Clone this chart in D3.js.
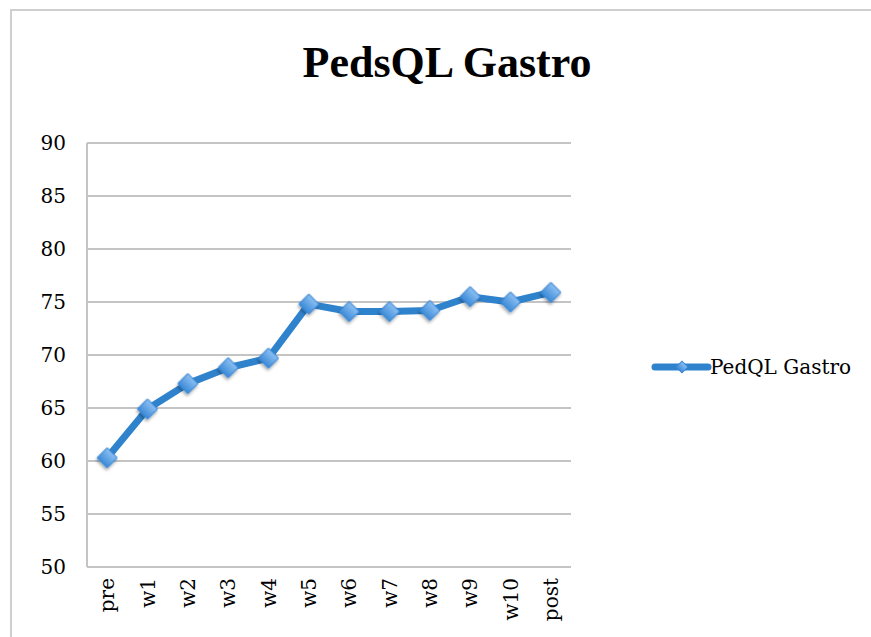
<!DOCTYPE html>
<html>
<head>
<meta charset="utf-8">
<script src="https://cdn.jsdelivr.net/npm/d3@7"></script>
<style>
  body { margin: 0; background: #fff; }
  svg { display: block; }
</style>
</head>
<body>
<div id="chart"></div>
<script>
const categories = ['pre', 'w1', 'w2', 'w3', 'w4', 'w5', 'w6', 'w7', 'w8', 'w9', 'w10', 'post'];
const values = [60.3, 64.9, 67.3, 68.8, 69.7, 74.8, 74.1, 74.1, 74.2, 75.5, 75.0, 75.9];
const yTicks = [50, 55, 60, 65, 70, 75, 80, 85, 90];
const seriesName = 'PedQL Gastro';
const title = 'PedsQL Gastro';

const W = 871, H = 637;
const margin = { top: 143, right: 300, bottom: 70, left: 87 };
const width = W - margin.left - margin.right;
const height = H - margin.top - margin.bottom;
const titleFont = '"Liberation Serif", serif';
const font = '"DejaVu Serif", serif';
const blue = '#2f82cc';

const svg = d3.select('#chart').append('svg')
  .attr('width', W)
  .attr('height', H);

const defs = svg.append('defs');
const grad = defs.append('linearGradient')
  .attr('id', 'mk').attr('x1', 0).attr('y1', 0).attr('x2', 0).attr('y2', 1);
grad.append('stop').attr('offset', '0%').attr('stop-color', '#8cc0f2');
grad.append('stop').attr('offset', '100%').attr('stop-color', '#3c8ad8');
const shadow = defs.append('filter').attr('id', 'sh')
  .attr('x', '-50%').attr('y', '-50%').attr('width', '200%').attr('height', '200%');
shadow.append('feDropShadow').attr('dx', 1).attr('dy', 2).attr('stdDeviation', 1.5)
  .attr('flood-color', '#000').attr('flood-opacity', 0.35);

// outer frame
svg.append('rect')
  .attr('x', 11).attr('y', 10)
  .attr('width', W).attr('height', H)
  .attr('fill', 'none')
  .attr('stroke', '#cfcfcf')
  .attr('stroke-width', 2);

svg.append('text')
  .attr('x', 447).attr('y', 77)
  .attr('text-anchor', 'middle')
  .attr('font-family', titleFont)
  .attr('font-weight', 'bold')
  .attr('font-size', '44px')
  .attr('fill', '#000')
  .text(title);

const g = svg.append('g')
  .attr('transform', `translate(${margin.left},${margin.top})`);

const x = d3.scaleBand()
  .domain(categories)
  .range([0, width]);

const y = d3.scaleLinear()
  .domain([50, 90])
  .range([height, 0]);

// gridlines
g.selectAll('.grid')
  .data(yTicks)
  .enter()
  .append('line')
  .attr('class', 'grid')
  .attr('x1', 0).attr('x2', width)
  .attr('y1', d => y(d)).attr('y2', d => y(d))
  .attr('stroke', '#c4c4c4')
  .attr('stroke-width', 2);

g.append('line')
  .attr('x1', 0).attr('x2', 0)
  .attr('y1', 0).attr('y2', height)
  .attr('stroke', '#c4c4c4')
  .attr('stroke-width', 2);

const yAxis = g.append('g')
  .call(d3.axisLeft(y).tickValues(yTicks).tickSize(0).tickPadding(21));
yAxis.select('.domain').remove();
yAxis.selectAll('.tick text')
  .attr('font-family', font)
  .attr('font-size', '20px')
  .attr('fill', '#000');

const xAxis = g.append('g')
  .attr('transform', `translate(0,${height})`)
  .call(d3.axisBottom(x).tickSize(0));
xAxis.select('.domain').remove();
xAxis.selectAll('.tick text')
  .attr('font-family', font)
  .attr('font-size', '20px')
  .attr('fill', '#000')
  .attr('transform', 'rotate(-90)')
  .attr('text-anchor', 'end')
  .attr('x', -11)
  .attr('y', 0)
  .attr('dy', '0.35em');

const line = d3.line()
  .x((d, i) => x(categories[i]) + x.bandwidth() / 2)
  .y(d => y(d));

g.append('path')
  .datum(values)
  .attr('d', line)
  .attr('fill', 'none')
  .attr('stroke', blue)
  .attr('stroke-width', 7)
  .attr('stroke-linejoin', 'round');

const diamond = d3.symbol().type(d3.symbolSquare).size(200);
g.selectAll('.pt')
  .data(values)
  .enter()
  .append('path')
  .attr('class', 'pt')
  .attr('d', diamond)
  .attr('transform', (d, i) => `translate(${x(categories[i]) + x.bandwidth() / 2},${y(d)}) rotate(45)`)
  .attr('fill', 'url(#mk)')
  .attr('stroke', '#3a86d4')
  .attr('stroke-width', 1)
  .attr('filter', 'url(#sh)');

// legend
const lg = svg.append('g').attr('transform', 'translate(655,367)');
lg.append('line')
  .attr('x1', 0).attr('x2', 53)
  .attr('y1', 0).attr('y2', 0)
  .attr('stroke', blue)
  .attr('stroke-width', 7)
  .attr('stroke-linecap', 'round');
lg.append('path')
  .attr('d', d3.symbol().type(d3.symbolSquare).size(70))
  .attr('transform', 'translate(27,0) rotate(45)')
  .attr('fill', 'url(#mk)')
  .attr('stroke', '#3a86d4');
lg.append('text')
  .attr('x', 55).attr('y', 0)
  .attr('dy', '0.35em')
  .attr('font-family', font)
  .attr('font-size', '20px')
  .attr('fill', '#000')
  .text(seriesName);
</script>
</body>
</html>
